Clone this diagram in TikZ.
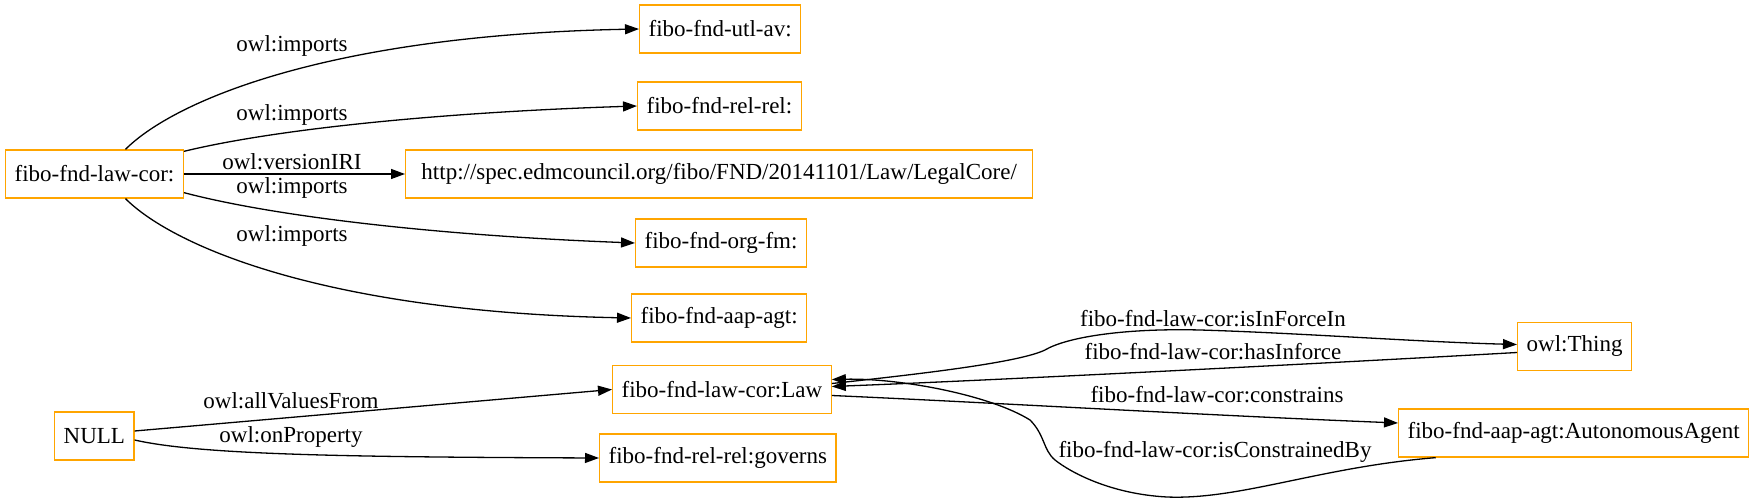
\documentclass[tikz,border=0pt]{standalone}
\usepackage{fontspec}
\setmainfont{Liberation Serif}
\usetikzlibrary{arrows.meta}
\definecolor{boxorange}{HTML}{FFA500}
\begin{document}
\begin{tikzpicture}[x=1pt,y=-1pt,
  box/.style={draw=boxorange, line width=1.3pt, minimum height=48pt, inner xsep=9pt, inner ysep=0pt, anchor=west, font=\fontsize{23}{27}\selectfont},
  lbl/.style={font=\fontsize{23}{27}\selectfont, inner sep=0pt},
  conn/.style={line width=1.3pt, -{Triangle[length=14pt,width=10pt]}}]
\useasboundingbox (0,0) rectangle (1757,502);
% nodes
\node[box] (lawcor) at (5,174) {fibo-fnd-law-cor:};
\node[box] (utlav) at (639,29) {fibo-fnd-utl-av:};
\node[box] (relrel) at (637,106) {fibo-fnd-rel-rel:};
\node[box, minimum width=627pt] (url) at (405,174) {http://spec.edmcouncil.org/fibo/FND/20141101/Law/LegalCore/};
\node[box] (orgfm) at (635,243) {fibo-fnd-org-fm:};
\node[box] (aapagt) at (631,318) {fibo-fnd-aap-agt:};
\node[box] (law) at (612,389.5) {fibo-fnd-law-cor:Law};
\node[box] (null) at (54,436) {NULL};
\node[box] (governs) at (599,458) {fibo-fnd-rel-rel:governs};
\node[box] (thing) at (1517,346.5) {owl:Thing};
\node[box] (aa) at (1398,433) {fibo-fnd-aap-agt:AutonomousAgent};
% connectors
\draw[conn] ([xshift=31pt]lawcor.north) .. controls (175,100) and (330,35) .. (utlav.west);
\draw[conn] ([yshift=-2pt]lawcor.north east) .. controls (280,128) and (450,112) .. (relrel.west);
\draw[conn] (lawcor.east) -- (url.west);
\draw[conn] ([yshift=6pt]lawcor.south east) .. controls (280,218) and (450,236) .. (orgfm.west);
\draw[conn] ([xshift=31pt]lawcor.south) .. controls (175,248) and (330,312) .. (aapagt.west);
\draw[conn] ([yshift=5pt]null.east) -- (law.west);
\draw[conn] ([yshift=-4pt]null.east) .. controls (200,455) and (350,457) .. (governs.west);
\draw[conn] ([yshift=6pt]law.east) .. controls (930,373) and (1020,362) .. (1045,350) .. controls (1065,338) and (1120,328) .. (1200,330) .. controls (1300,333) and (1420,342) .. ([yshift=2pt]thing.west);
\draw[conn] ([yshift=-6pt]thing.west) .. controls (1350,362) and (1000,380) .. ([yshift=3pt]law.east);
\draw[conn] ([yshift=-6pt]law.east) .. controls (1000,403) and (1200,415) .. ([yshift=10pt]aa.west);
\draw[conn] ([xshift=-138pt]aa.south) .. controls (1320,467) and (1240,500) .. (1167,497) .. controls (1110,494) and (1070,472) .. (1055,460) .. controls (1043,450) and (1045,435) .. (1030,420) .. controls (990,395) and (900,378) .. ([yshift=10pt]law.east);
% labels
\node[lbl] (l1) at (292,46) {owl:imports};
\node[lbl] (l2) at (292,115) {owl:imports};
\node[lbl] (l3) at (292,162) {owl:versionIRI};
\node[lbl] (l4) at (292,188) {owl:imports};
\node[lbl] (l5) at (292,236) {owl:imports};
\node[lbl] (l6) at (291,401) {owl:allValuesFrom};
\node[lbl] (l7) at (291,437) {owl:onProperty};
\node[lbl] (l8) at (1213,319) {fibo-fnd-law-cor:isInForceIn};
\node[lbl] (l9) at (1213,352) {fibo-fnd-law-cor:hasInforce};
\node[lbl] (l10) at (1217,395) {fibo-fnd-law-cor:constrains};
\node[lbl] (l11) at (1215,452) {fibo-fnd-law-cor:isConstrainedBy};
\end{tikzpicture}
\end{document}
